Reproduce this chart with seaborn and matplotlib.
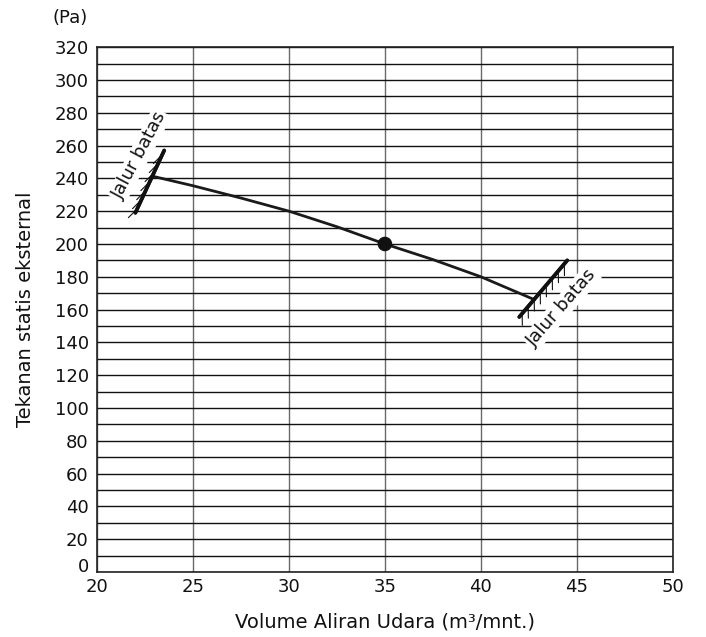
import matplotlib

matplotlib.use("Agg")
import matplotlib.pyplot as plt
import matplotlib.patheffects as pe
import matplotlib.transforms as mtransforms
import pandas as pd
import seaborn as sns

# curve
flow = [23.0, 25.0, 27.5, 30.0, 32.5, 35.0, 37.5, 40.0, 42.8]
pressure = [241.0, 235.5, 228.0, 220.0, 210.5, 200.0, 190.5, 180.0, 166.0]

# rated point
rated_flow = [35.0]
rated_pressure = [200.0]

# limit lines ("Jalur batas")
left_limit_x = [22.0, 23.5]
left_limit_y = [219.0, 257.0]
right_limit_x = [42.0, 44.5]
right_limit_y = [155.5, 190.0]

x_ticks = [20, 25, 30, 35, 40, 45, 50]
y_ticks = list(range(0, 321, 20))
y_minor = list(range(10, 320, 20))

sns.set_style("white")
plt.rcParams["font.family"] = ["DejaVu Sans"]
plt.rcParams["text.color"] = "#111111"
plt.rcParams["axes.labelcolor"] = "#111111"
plt.rcParams["xtick.color"] = "#111111"
plt.rcParams["ytick.color"] = "#111111"

fig = plt.figure(figsize=(7.06, 6.37), dpi=100)
ax = fig.add_axes([0.1374, 0.102, 0.8156, 0.824])

df = pd.DataFrame({"flow": flow, "pressure": pressure})
sns.lineplot(data=df, x="flow", y="pressure", color="#1a1a1a", linewidth=2.0, ax=ax,
             zorder=4)
sns.scatterplot(x=rated_flow, y=rated_pressure, color="#111111", s=110, ax=ax,
                edgecolor="none", zorder=5)

ax.plot(left_limit_x, left_limit_y, color="#111111", linewidth=2.6, zorder=4,
        path_effects=[pe.withTickedStroke(spacing=6.5, angle=160, length=1.4,
                                          linewidth=0.8),
                      pe.Normal()])
ax.plot(right_limit_x, right_limit_y, color="#111111", linewidth=2.6, zorder=4,
        path_effects=[pe.withTickedStroke(spacing=6.5, angle=-139, length=1.3,
                                          linewidth=0.8),
                      pe.Normal()])

box = dict(facecolor="white", edgecolor="none", pad=1.0)
ax.text(22.2, 254, "Jalur batas", rotation=62, ha="center", va="center",
        fontsize=13, bbox=box, zorder=3, rotation_mode="anchor")
ax.text(44.2, 161, "Jalur batas", rotation=49, ha="center", va="center",
        fontsize=13, bbox=box, zorder=3, rotation_mode="anchor")

ax.set_xlim(20, 50)
ax.set_ylim(0, 320)
ax.set_xticks(x_ticks)
ax.set_yticks(y_ticks)
ax.set_yticks(y_minor, minor=True)
ax.grid(axis="y", which="both", color="#111111", linewidth=1.0, zorder=1)
ax.grid(axis="x", which="major", color="#6a6a6a", linewidth=1.0, zorder=1)
ax.set_axisbelow(True)
ax.tick_params(axis="both", which="both", length=0, labelsize=13)
ax.tick_params(axis="x", pad=4)
ax.tick_params(axis="y", pad=6)
for s in ax.spines.values():
    s.set_color("#222222")
    s.set_linewidth(1.2)

# lift the "0" a little, as in the original, so it clears the "20" below
zero_label = ax.get_yticklabels()[0]
zero_label.set_transform(zero_label.get_transform()
                         + mtransforms.ScaledTranslation(0, 5 / 72, fig.dpi_scale_trans))

ax.set_xlabel("Volume Aliran Udara (m³/mnt.)", fontsize=14, labelpad=12)
ax.set_ylabel("Tekanan statis eksternal", fontsize=14, labelpad=14)
fig.text(0.099, 0.972, "(Pa)", ha="center", va="center", fontsize=13)

fig.savefig("out.png", dpi=100)
